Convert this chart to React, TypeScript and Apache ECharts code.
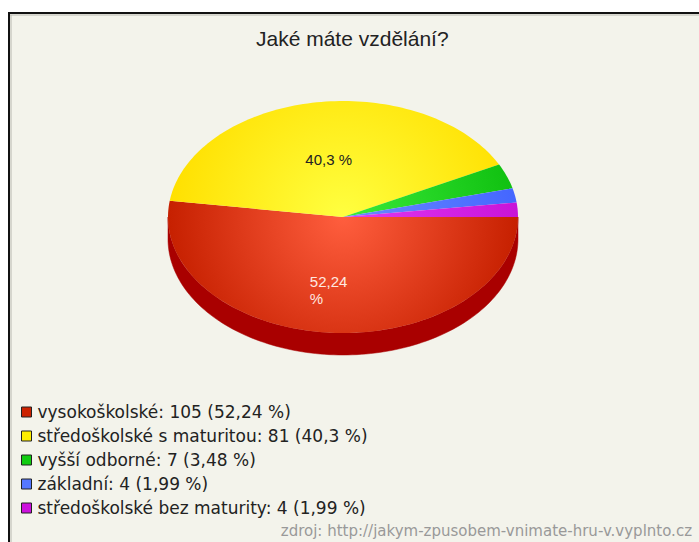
import React, { useEffect, useRef } from 'react';
import * as echarts from 'echarts';

const categories = [
  'vysokoškolské',
  'středoškolské s maturitou',
  'vyšší odborné',
  'základní',
  'středoškolské bez maturity',
];
const counts = [105, 81, 7, 4, 4];
const titleText = 'Jaké máte vzdělání?';
const sourceText = 'zdroj: http://jakym-zpusobem-vnimate-hru-v.vyplnto.cz';

// styles
const topColors = [
  ['#ff5e3e', '#c62000'],
  ['#ffff40', '#ffe000'],
  ['#3aea3a', '#10c010'],
  ['#6a8aff', '#4466ff'],
  ['#e23af2', '#c814d8'],
];
const legendColors = ['#cc2200', '#ffee00', '#11cc11', '#5577ff', '#cc11dd'];
const sideColors = ['#a90000', '#c8b400', '#0d9a0d', '#3350cc', '#a00cb0'];
const labelColors = ['#ffe8e0', '#222222', '#222222', '#222222', '#222222'];

const CX = 343;
const CY = 217;
const RX = 175;
const RY = 116;
const DEPTH = 22;

const total = counts.reduce((a, b) => a + b, 0);
const starts: number[] = [];
{
  let acc = 0;
  counts.forEach((c) => {
    starts.push(acc);
    acc += c;
  });
}
const pctOf = (v: number) => Math.round((v / total) * 10000) / 100;
const fmtPct = (v: number) => String(pctOf(v)).replace('.', ',');

function ellPt(a: number, dy = 0): number[] {
  return [CX + RX * Math.cos(a), CY + RY * Math.sin(a) + dy];
}

function makeRenderItem(i: number) {
  return (params: any, api: any) => {
    const v = api.value(0) as number;
    const a0 = (starts[i] / total) * Math.PI * 2;
    const a1 = a0 + (v / total) * Math.PI * 2;
    const children: any[] = [];
    // visible side wall (front half)
    const s = Math.max(a0, 0);
    const e = Math.min(a1, Math.PI);
    if (e > s) {
      const pts: number[][] = [];
      const n = Math.max(4, Math.ceil(((e - s) / (Math.PI * 2)) * 240));
      for (let k = 0; k <= n; k++) pts.push(ellPt(s + ((e - s) * k) / n));
      for (let k = n; k >= 0; k--) pts.push(ellPt(s + ((e - s) * k) / n, DEPTH));
      children.push({
        type: 'polygon',
        z2: 1,
        shape: { points: pts },
        style: { fill: sideColors[i], stroke: sideColors[i], lineWidth: 0.5 },
      });
    }
    // top face
    const tp: number[][] = [[CX, CY]];
    const n2 = Math.max(4, Math.ceil(((a1 - a0) / (Math.PI * 2)) * 240));
    for (let k = 0; k <= n2; k++) tp.push(ellPt(a0 + ((a1 - a0) * k) / n2));
    children.push({
      type: 'polygon',
      z2: 10,
      shape: { points: tp },
      style: {
        fill: new echarts.graphic.RadialGradient(
          CX,
          CY,
          RX,
          [
            { offset: 0, color: topColors[i][0] },
            { offset: 1, color: topColors[i][1] },
          ],
          true
        ),
      },
    });
    // label for large slices
    if (v / total > 0.1) {
      const m = (a0 + a1) / 2;
      const ax = CX + RX * 0.5 * Math.cos(m);
      const down = Math.sin(m) > 0;
      const ay = CY + RY * 0.5 * Math.sin(m) + (down ? DEPTH * 0.7 : 0);
      const txt = fmtPct(v) + (v / total > 0.5 ? '\n' : ' ') + '%';
      const multi = txt.indexOf('\n') >= 0;
      children.push({
        type: 'text',
        z2: 20,
        x: multi ? ax - 27 : ax,
        y: ay,
        style: {
          text: txt,
          fill: labelColors[i],
          fontFamily: 'Liberation Sans',
          fontSize: 15,
          lineHeight: 17,
          align: multi ? 'left' : 'center',
          verticalAlign: 'middle',
        },
      });
    }
    return { type: 'group', children };
  };
}

export default function App() {
  const ref = useRef<HTMLDivElement>(null);
  useEffect(() => {
    if (!ref.current) return;
    const chart = echarts.init(ref.current, undefined, { renderer: 'svg' });
    const option: any = {
      animation: false,
      backgroundColor: '#ffffff',
      title: {
        text: titleText,
        left: 256,
        top: 28,
        padding: 0,
        textStyle: {
          fontFamily: 'Liberation Sans',
          fontSize: 21,
          fontWeight: 'normal',
          color: '#222222',
        },
      },
      legend: {
        orient: 'vertical',
        left: 21,
        top: 403,
        padding: 0,
        itemWidth: 10,
        itemHeight: 10,
        itemGap: 6,
        icon: 'rect',
        selectedMode: false,
        data: categories,
        itemStyle: { borderColor: '#222222', borderWidth: 1 },
        textStyle: {
          fontFamily: 'DejaVu Sans',
          fontSize: 17,
          lineHeight: 18,
          color: '#222222',
          padding: [0, 0, 0, 1],
        },
        formatter: (name: string) => {
          const idx = categories.indexOf(name);
          return `${name}: ${counts[idx]} (${fmtPct(counts[idx])} %)`;
        },
      },
      graphic: [
        {
          type: 'rect',
          z: -10,
          shape: { x: 9, y: 13, width: 760, height: 620 },
          style: { fill: '#f3f3eb', stroke: '#111111', lineWidth: 2 },
        },
        {
          type: 'line',
          z: -9,
          shape: { x1: 10, y1: 15, x2: 699, y2: 15 },
          style: { stroke: '#b8b8b0', lineWidth: 1 },
        },
        {
          type: 'line',
          z: -9,
          shape: { x1: 11, y1: 15, x2: 11, y2: 542 },
          style: { stroke: '#b8b8b0', lineWidth: 1 },
        },
        {
          type: 'text',
          right: 7,
          top: 523,
          style: {
            text: sourceText,
            fill: '#999999',
            fontFamily: 'DejaVu Sans',
            fontSize: 15,
          },
        },
      ],
      series: categories.map((name, i) => ({
        type: 'custom',
        name,
        coordinateSystem: 'none',
        itemStyle: { color: legendColors[i] },
        data: [[counts[i]]],
        renderItem: makeRenderItem(i),
      })),
    };
    chart.setOption(option);
    return () => chart.dispose();
  }, []);
  return (
    <div
      ref={ref}
      style={{ position: 'absolute', left: 0, top: 0, width: 699, height: 542 }}
    />
  );
}
